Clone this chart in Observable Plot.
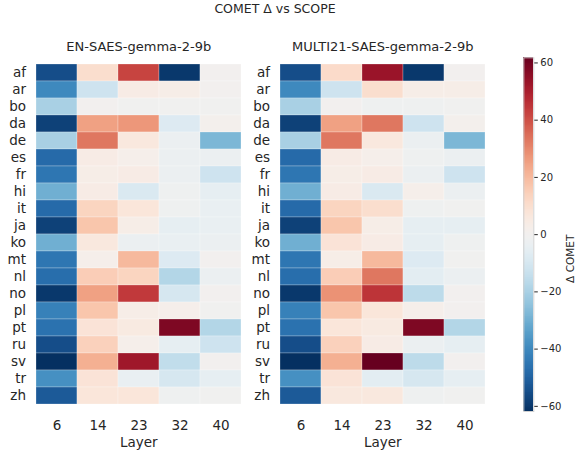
<!DOCTYPE html>
<html>
<head>
<meta charset="utf-8">
<script src="https://cdn.jsdelivr.net/npm/d3@7"></script>
<script src="https://cdn.jsdelivr.net/npm/@observablehq/plot@0.6"></script>
<style>
  html, body { margin: 0; padding: 0; background: #fff; }
  #wrap { position: relative; width: 584px; height: 453px; font-family: "DejaVu Sans", sans-serif; color: #262626; }
  #wrap > div.p { position: absolute; top: 0; }
  #title { position: absolute; top: 0; left: 0; width: 550px; text-align: center; font-size: 12.5px; line-height: 17px; }
</style>
</head>
<body>
<div id="wrap">
  <div id="title">COMET Δ vs SCOPE</div>
  <div class="p" id="p1" style="left:0px"></div>
  <div class="p" id="p2" style="left:244px"></div>
  <div class="p" id="cb" style="left:500px"></div>
</div>
<script>
const langs = ["af","ar","bo","da","de","es","fr","hi","it","ja","ko","mt","nl","no","pl","pt","ru","sv","tr","zh"];
const layers = ["6","14","23","32","40"];
const titles = ["EN-SAES-gemma-2-9b", "MULTI21-SAES-gemma-2-9b"];
// rows = languages, columns = layers 6,14,23,32,40
const enVals = [
  [-55, 10, 42, -60, 0],
  [-40, -12, 4, 3, 0],
  [-20, 0, -1, -1, -1],
  [-58, 25, 27, -8, 1],
  [-20, 33, 6, -3, -28],
  [-48, 4, 2, -3, -3],
  [-45, 3, 4, -3, -12],
  [-30, 4, -9, -2, -5],
  [-48, 13, 7, -2, -4],
  [-58, 17, 3, -5, -4],
  [-30, 6, -3, -4, -3],
  [-45, 2, 20, -8, 0],
  [-47, 15, 13, -18, -3],
  [-60, 25, 44, -10, 0],
  [-42, 17, 3, 2, -1],
  [-46, 8, 5, 58, -18],
  [-55, 14, 2, -5, -12],
  [-61.8, 22, 52, -15, 0],
  [-38, 8, -4, -10, -5],
  [-52, 7, 7, -2, -1]
];
const multiVals = [
  [-55, 11, 53, -60, 0],
  [-40, -12, 10, 3, 3],
  [-20, 0, -2, -2, -1],
  [-58, 25, 33, -12, 1],
  [-20, 33, 6, -3, -28],
  [-48, 4, 2, -2, -3],
  [-45, 3, 4, -3, -12],
  [-30, 4, -9, 2, -3],
  [-48, 13, 10, -2, -1],
  [-58, 17, 3, -5, -5],
  [-30, 8, 4, -5, -2],
  [-45, 3, 20, -8, -1],
  [-47, 15, 33, -6, -3],
  [-60, 28, 45, -16, 0],
  [-42, 17, 7, 2, 0],
  [-46, 7, 5, 58, -18],
  [-55, 14, 4, -3, -5],
  [-61.8, 22, 61.8, -16, 0],
  [-38, 8, -6, -10, -5],
  [-52, 6, 6, -2, -1]
];
const vmax = 61.8;
const colorbarTicks = [-60, -40, -20, 0, 20, 40, 60];
const cbLabel = "Δ COMET";
const xLabel = "Layer";

const FONT = "DejaVu Sans";
const INK = "#262626";

function tidy(vals) {
  const out = [];
  langs.forEach((l, i) => layers.forEach((ly, j) => out.push({lang: l, layer: ly, v: vals[i][j]})));
  return out;
}

function heat(vals, title, marginLeft) {
  return Plot.plot({
    width: marginLeft + 208.5 + 8,
    height: 453,
    marginLeft: marginLeft,
    marginRight: 8,
    marginTop: 57,
    marginBottom: 41.5,
    style: {fontFamily: FONT, fontSize: "13.5px", color: INK, background: "transparent", overflow: "visible"},
    x: {domain: layers, padding: 0, label: null},
    y: {domain: langs, padding: 0, label: null},
    color: {type: "linear", domain: [-vmax, vmax], scheme: "RdBu", reverse: true},
    marks: [
      Plot.cell(tidy(vals), {x: "layer", y: "lang", fill: "v", stroke: "white", strokeWidth: 0.5, strokeOpacity: 0.5}),
      Plot.axisX({tickSize: 0, tickPadding: 8, label: null, fontSize: 13.5}),
      Plot.axisY({tickSize: 0, tickPadding: 8.5, label: null, fontSize: 13.5}),
      Plot.text([title], {frameAnchor: "top", lineAnchor: "middle", dy: -10.5, fontSize: 13, fill: INK}),
      Plot.text([xLabel], {frameAnchor: "bottom", lineAnchor: "middle", dy: 30.5, fontSize: 13.5, fill: INK})
    ]
  });
}

document.getElementById("p1").appendChild(heat(enVals, titles[0], 34));
document.getElementById("p2").appendChild(heat(multiVals, titles[1], 34));

// colorbar gradient (continuous ramp of the colour scale)
const step = vmax / 200;
const cbSteps = d3.range(-vmax, vmax, step);
const cb = Plot.plot({
  width: 84,
  height: 453,
  marginLeft: 23.3,
  marginRight: 50.7,
  marginTop: 57.3,
  marginBottom: 42,
  style: {fontFamily: FONT, fontSize: "10px", color: INK, background: "transparent", overflow: "visible"},
  x: {axis: null, domain: [0, 1]},
  y: {domain: [-vmax, vmax], label: null},
  color: {type: "linear", domain: [-vmax, vmax], scheme: "RdBu", reverse: true},
  marks: [
    Plot.rect(cbSteps, {x1: 0, x2: 1, y1: d => d, y2: d => Math.min(vmax, d + step * 2), fill: d => d + step / 2, shapeRendering: "crispEdges"}),
    Plot.frame({stroke: "#d0d0d0", strokeWidth: 1}),
    Plot.axisY({anchor: "right", ticks: colorbarTicks, tickSize: 3.5, tickPadding: 3, tickFormat: d => d < 0 ? "\u2212" + Math.abs(d) : String(d), label: null, fontSize: 10}),
    Plot.text([cbLabel], {frameAnchor: "right", dx: 37, rotate: -90, fontSize: 10.5, fill: INK})
  ]
});
document.getElementById("cb").appendChild(cb);
</script>
</body>
</html>
